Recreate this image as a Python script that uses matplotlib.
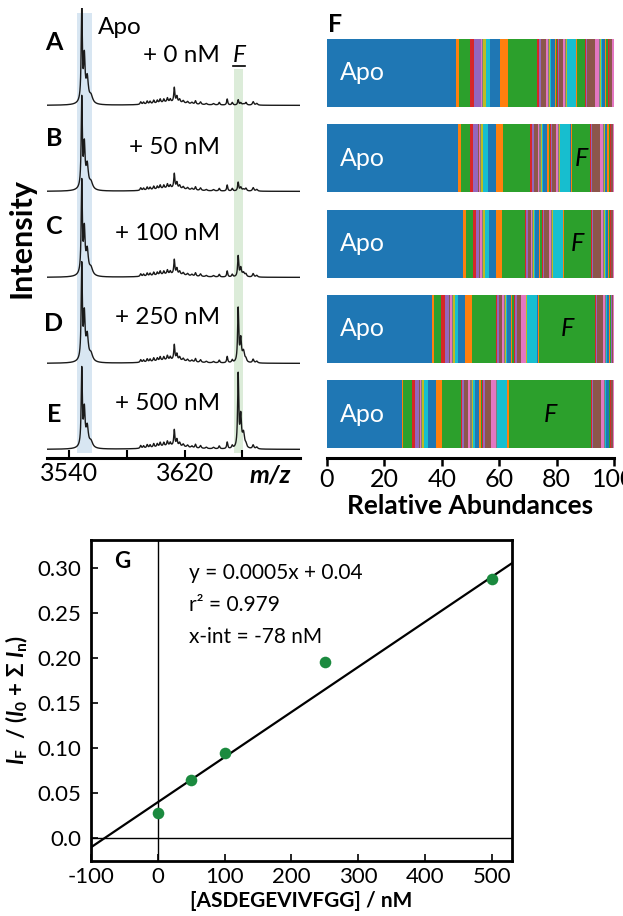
import numpy as np
import matplotlib.pyplot as plt
from matplotlib.lines import Line2D

plt.rcParams['font.family'] = ['Lato', 'DejaVu Sans']
plt.rcParams['axes.unicode_minus'] = False
plt.rcParams['mathtext.fontset'] = 'custom'
plt.rcParams['mathtext.rm'] = 'Lato:bold'
plt.rcParams['mathtext.it'] = 'Lato:italic:bold'
plt.rcParams['mathtext.bf'] = 'Lato:bold'

# ---- titration data ----
concentrations = [0, 50, 100, 250, 500]          # nM ASDEGEVIVFGG
trace_letters = ['A', 'B', 'C', 'D', 'E']

# mass spectra: peak groups (m/z, relative height, half width)
apo_peaks = [(3548.6, 1.0, 0.45), (3550.4, 0.45, 0.6), (3552.4, 0.25, 0.9),
             (3555.0, 0.08, 1.4), (3550.0, 0.04, 3.0)]
f_peaks = [(3657.1, 1.0, 0.45), (3658.9, 0.42, 0.6), (3660.8, 0.2, 0.9)]
adduct_peaks = [(3589.5, 0.03, 0.5), (3591.5, 0.025, 0.5), (3594.0, 0.035, 0.5),
                (3596.0, 0.03, 0.5), (3598.5, 0.04, 0.5), (3601.0, 0.035, 0.5),
                (3603.0, 0.045, 0.5), (3605.5, 0.04, 0.5), (3608.0, 0.05, 0.5),
                (3610.0, 0.035, 0.5), (3612.8, 0.17, 0.45), (3614.6, 0.07, 0.5),
                (3616.5, 0.04, 0.6), (3619.0, 0.03, 0.7), (3622.0, 0.025, 0.7),
                (3625.0, 0.02, 0.7), (3627.5, 0.04, 0.5), (3631.0, 0.03, 0.6),
                (3635.0, 0.015, 0.7), (3640.0, 0.015, 0.7), (3644.0, 0.03, 0.5),
                (3649.5, 0.07, 0.45), (3653.0, 0.03, 0.5), (3662.5, 0.03, 0.6),
                (3667.5, 0.04, 0.6), (3670.0, 0.02, 0.7), (3610.0, 0.035, 12.0)]
apo_height = [1.07, 1.02, 1.05, 1.08, 0.88]
f_height = [0.06, 0.10, 0.24, 0.62, 0.85]
adduct_scale = [1.0, 1.0, 1.0, 1.05, 1.1]

# relative abundances of every species (Apo first, bound F is species 32)
abundance_0nM = [45.0, 1.1, 3.7, 1.4, 2.3, 0.3, 0.3, 0.3, 0.9, 1.5, 3.5, 2.9, 9.9, 0.9, 0.5, 1.8,
                 0.6, 0.4, 0.4, 0.4, 1.2, 0.5, 0.5, 0.3, 0.4, 1.2, 0.6, 0.4, 0.3, 3.1, 0.2, 0.3,
                 2.8, 0.3, 0.4, 2.8, 1.2, 0.5, 0.4, 0.4, 0.9, 0.5, 0.5, 0.3, 0.3, 0.8, 0.8]
abundance_50nM = [45.8, 0.8, 3.2, 1.2, 1.7, 0.3, 0.4, 0.3, 0.8, 1.6, 2.9, 2.3, 9.6, 0.5, 0.6, 1.5,
                  0.5, 0.4, 0.4, 0.5, 1.5, 0.4, 0.6, 0.3, 0.4, 1.3, 0.8, 0.4, 0.3, 3.5, 0.2, 0.3,
                  6.5, 0.2, 0.4, 2.6, 1.0, 0.4, 0.3, 0.3, 0.7, 0.4, 0.4, 0.3, 0.3, 0.5, 0.4]
abundance_100nM = [47.3, 1.0, 2.6, 0.9, 1.2, 0.4, 0.6, 0.3, 0.6, 1.4, 2.6, 2.1, 8.1, 0.4, 0.5, 1.0,
                   0.5, 0.3, 0.4, 0.4, 1.3, 0.4, 0.5, 0.3, 0.4, 1.7, 0.9, 0.3, 0.3, 3.4, 0.2, 0.3,
                   9.5, 0.2, 0.4, 2.7, 0.9, 0.3, 0.3, 0.3, 0.6, 0.4, 0.4, 0.2, 0.3, 0.5, 0.4]
abundance_250nM = [36.5, 0.8, 2.3, 1.5, 1.5, 0.4, 0.5, 0.3, 0.7, 1.0, 2.5, 2.4, 8.5, 0.4, 0.5, 1.3,
                   0.6, 0.4, 0.3, 0.4, 1.4, 0.4, 0.7, 0.3, 0.5, 1.5, 1.6, 0.3, 0.3, 3.5, 0.2, 0.4,
                   19.5, 0.2, 0.4, 2.2, 0.6, 0.3, 0.2, 0.2, 0.8, 0.3, 0.3, 0.2, 0.2, 0.4, 0.3]
abundance_500nM = [26.0, 0.6, 2.9, 1.2, 1.5, 0.3, 0.4, 0.3, 0.7, 1.4, 2.6, 2.0, 6.9, 0.3, 0.5, 1.5,
                   0.8, 0.5, 0.5, 0.6, 1.4, 0.6, 0.6, 0.4, 0.6, 1.9, 1.8, 0.3, 0.3, 3.2, 0.2, 0.6,
                   28.7, 0.2, 0.3, 3.0, 0.9, 0.2, 0.2, 0.2, 1.0, 0.3, 0.2, 0.2, 0.2, 0.7, 0.3]
abundances = [abundance_0nM, abundance_50nM, abundance_100nM, abundance_250nM, abundance_500nM]
F_INDEX = 32

# fraction of F-bound protein vs ligand concentration
ratio_F = [0.028, 0.065, 0.095, 0.195, 0.287]
fit_slope, fit_intercept = 0.0005, 0.04

# ---- figure in pixel units ----
W, H = 623, 916
fig = plt.figure(figsize=(W / 100, H / 100), dpi=100)


def box(x0, y0, x1, y1):
    return [x0 / W, 1 - y1 / H, (x1 - x0) / W, (y1 - y0) / H]


def at(x, y):
    return x / W, 1 - y / H


def lorentz(x, centre, height, hw):
    return height * hw ** 2 / ((x - centre) ** 2 + hw ** 2)


# ---- mass spectra ----
ax_ms = fig.add_axes(box(47, 8, 300, 458))
ax_ms.set_xlim(3524.5, 3700)
ax_ms.set_ylim(0, 450 / 86)
mz = np.linspace(3524.5, 3700, 4000)

ax_ms.axvspan(3545.3, 3555.7, ymin=5 / 450, ymax=445 / 450, color='#d8e6f2', lw=0, zorder=0)
ax_ms.axvspan(3654.1, 3660.6, ymin=5 / 450, ymax=389 / 450, color='#dcecd9', lw=0, zorder=0)

for i in range(len(concentrations)):
    trace = np.zeros_like(mz)
    for c, h, w in apo_peaks:
        trace += lorentz(mz, c, h * apo_height[i], w)
    for c, h, w in f_peaks:
        trace += lorentz(mz, c, h * f_height[i], w)
    for c, h, w in adduct_peaks:
        trace += lorentz(mz, c, h * adduct_scale[i], w)
    offset = 0.1 + (len(concentrations) - 1 - i) * 1.0
    ax_ms.plot(mz, trace + offset, color='#1a1a1a', lw=1.0, zorder=2)

for s in ['top', 'left', 'right']:
    ax_ms.spines[s].set_visible(False)
ax_ms.spines['bottom'].set_linewidth(2.2)
ax_ms.set_yticks([])
ax_ms.set_xticks([3540, 3580, 3620, 3660])
ax_ms.set_xticklabels(['3540', '', '3620', ''])
ax_ms.tick_params(axis='x', direction='in', length=6, width=1.5, labelsize=18, pad=3)

letter_y = [43, 139, 227, 323, 414]
conc_y = [55, 147, 233, 317, 403]
for i, c in enumerate(concentrations):
    fig.text(*at(54, letter_y[i]), trace_letters[i], fontsize=18, fontweight='bold',
             ha='center', va='center')
    fig.text(*at(220, conc_y[i]), f'+ {c} nM', fontsize=17.5, ha='right', va='center')
fig.text(*at(98, 28), 'Apo', fontsize=17.5, ha='left', va='center')
fig.text(*at(239, 55), 'F', fontsize=17.5, style='italic', ha='center', va='center')
fig.add_artist(Line2D([233 / W, 245 / W], [1 - 66 / H, 1 - 66 / H], color='black', lw=1.2))
fig.text(*at(21, 238), 'Intensity', fontsize=22, fontweight='bold', rotation=90,
         ha='center', va='center')
fig.text(*at(270, 475), 'm/z', fontsize=18, fontweight='bold', style='italic',
         ha='center', va='center')

# ---- stacked abundance bars ----
ax_bar = fig.add_axes(box(327, 30, 614, 458))
ax_bar.set_xlim(0, 100)
ax_bar.set_ylim(4.513, -0.504)
colors = plt.get_cmap('tab10').colors
data = np.array(abundances)
rows = np.arange(len(concentrations))
lefts = np.zeros(len(concentrations))
for j in range(data.shape[1]):
    ax_bar.barh(rows, data[:, j], left=lefts, height=0.797, color=colors[j % 10], lw=0)
    if j == F_INDEX:
        for r in rows[1:]:
            ax_bar.text(lefts[r] + data[r, j] / 2, r, 'F', fontsize=18, style='italic',
                        ha='center', va='center')
    lefts = lefts + data[:, j]
for r in rows:
    ax_bar.text(4.5, r, 'Apo', color='white', fontsize=18, ha='left', va='center')

for s in ['top', 'left', 'right']:
    ax_bar.spines[s].set_visible(False)
ax_bar.spines['bottom'].set_linewidth(2.2)
ax_bar.set_yticks([])
ax_bar.set_xticks(np.arange(0, 101, 20))
ax_bar.tick_params(axis='x', direction='out', length=6, width=1.8, labelsize=18, pad=1)
ax_bar.set_xlabel('Relative Abundances', fontsize=19, fontweight='bold', labelpad=2)
fig.text(*at(335, 24), 'F', fontsize=18, fontweight='bold', ha='center', va='center')

# ---- binding curve ----
ax_g = fig.add_axes(box(91, 540, 512, 861))
ax_g.set_xlim(-100, 530)
ax_g.set_ylim(-0.0252, 0.3307)
ax_g.axhline(0, color='black', lw=1.0)
ax_g.axvline(0, color='black', lw=1.0)
xfit = np.array(ax_g.get_xlim())
ax_g.plot(xfit, fit_slope * xfit + fit_intercept, color='black', lw=1.6)
ax_g.scatter(concentrations, ratio_F, s=70, color='#1b8a3f', zorder=3, lw=0)

for s in ax_g.spines.values():
    s.set_linewidth(2.0)
ax_g.set_xticks(np.arange(-100, 501, 100))
ax_g.set_yticks([0.0, 0.05, 0.10, 0.15, 0.20, 0.25, 0.30])
ax_g.set_yticklabels(['0.0', '0.05', '0.10', '0.15', '0.20', '0.25', '0.30'])
ax_g.tick_params(direction='in', length=5, width=1.2, labelsize=16)
ax_g.tick_params(axis='x', pad=4)
ax_g.tick_params(axis='y', pad=7)
ax_g.set_xlabel('[ASDEGEVIVFGG] / nM', fontsize=15, fontweight='bold', labelpad=3)
ax_g.set_ylabel(r'$I_\mathrm{F}$  / ($I_0$ + Σ $I_\mathrm{n}$)', fontsize=16,
                fontweight='bold', labelpad=5)

fig.text(*at(122, 562), 'G', fontsize=16, fontweight='bold', ha='center', va='center')
for k, line in enumerate(['y = 0.0005x + 0.04', 'r² = 0.979', 'x-int = -78 nM']):
    fig.text(*at(189, 573 + 32 * k), line, fontsize=15, ha='left', va='center')

fig.savefig('out.png', dpi=100)
